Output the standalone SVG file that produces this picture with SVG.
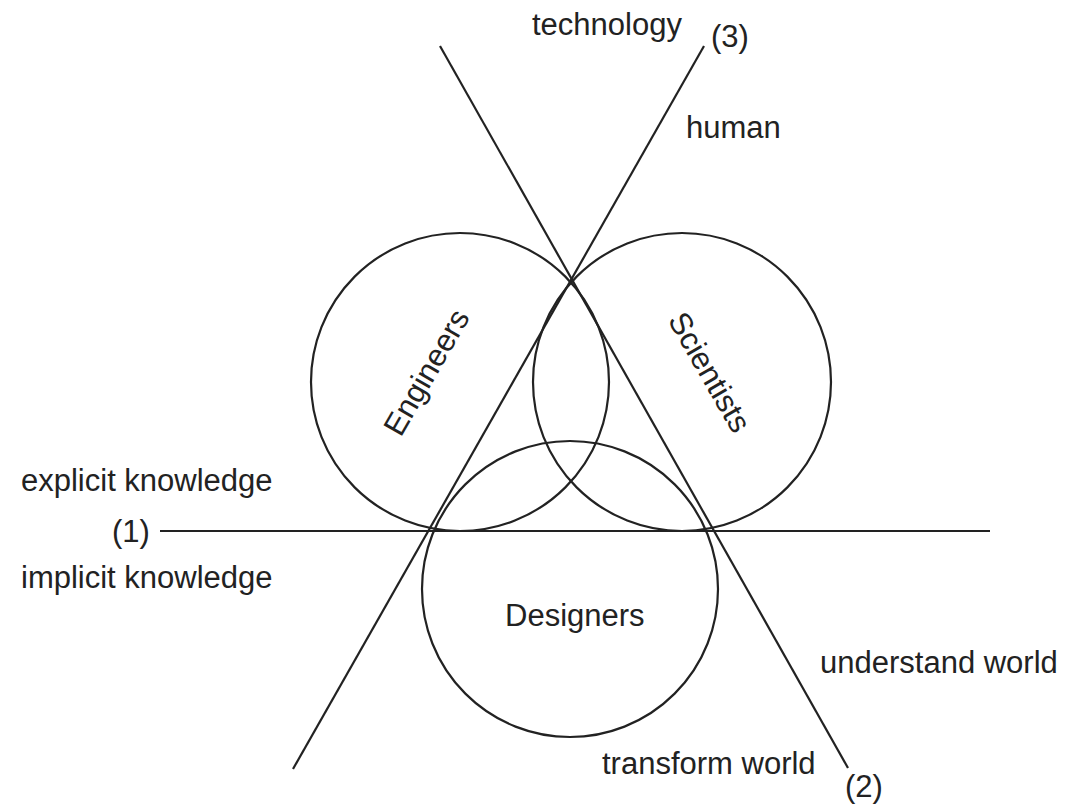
<svg xmlns="http://www.w3.org/2000/svg" width="1089" height="804" viewBox="0 0 1089 804">
  <style>
    .ln { stroke: #222; stroke-width: 2.2; fill: none; }
    .cir { stroke: #222; stroke-width: 2.2; fill: none; }
    text { font-family: "Liberation Sans", Arial, sans-serif; font-size: 31px; fill: #222; }
  </style>
  <rect width="1089" height="804" fill="#fff"/>

  <!-- axes -->
  <g id="connectors">
    <line class="ln" x1="160" y1="531" x2="990" y2="531"/>
    <line class="ln" x1="704" y1="46" x2="293" y2="769"/>
    <line class="ln" x1="440" y1="46" x2="848" y2="768"/>
  </g>

  <g id="engineers">
    <circle class="cir" cx="460" cy="382" r="149"/>
    <text transform="translate(426,372) rotate(-60)" text-anchor="middle" y="11">Engineers</text>
  </g>

  <g id="scientists">
    <circle class="cir" cx="682" cy="382" r="149"/>
    <text transform="translate(710,372) rotate(60)" text-anchor="middle" y="11">Scientists</text>
  </g>

  <g id="designers">
    <circle class="cir" cx="570" cy="589" r="148"/>
    <text x="505" y="626">Designers</text>
  </g>

  <g id="labels">
    <text x="532" y="35">technology</text>
    <text x="711" y="47">(3)</text>
    <text x="686" y="138">human</text>
    <text x="21" y="491">explicit knowledge</text>
    <text x="112" y="542">(1)</text>
    <text x="21" y="588">implicit knowledge</text>
    <text x="820" y="673">understand world</text>
    <text x="602" y="774">transform world</text>
    <text x="845" y="797">(2)</text>
  </g>
</svg>
